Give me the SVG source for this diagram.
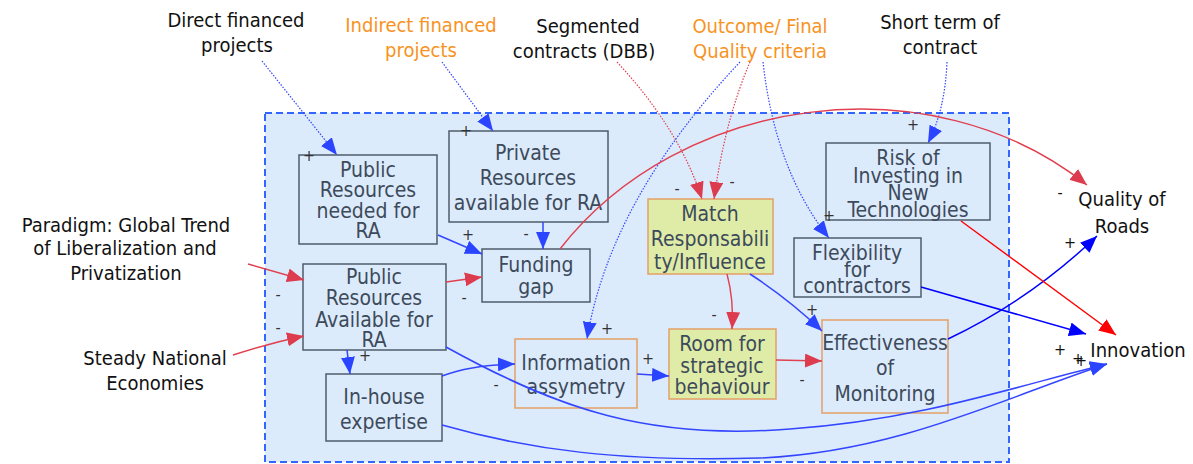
<svg xmlns="http://www.w3.org/2000/svg" width="1193" height="464" viewBox="0 0 1193 464">
  <style>
    text { font-family: "DejaVu Sans Condensed", "DejaVu Sans", sans-serif; font-size: 20px; }
    .ext { fill: #111111; text-anchor: middle; }
    .ora { fill: #f7931e; text-anchor: middle; }
    .nt { fill: #3d4a5a; text-anchor: middle; font-size: 21px; }
    .box { fill: #dcebfc; stroke: #4d5c6b; stroke-width: 1.5; }
    .obox { fill: #dcebfc; stroke: #e2a066; stroke-width: 1.5; }
    .ybox { fill: #dfeca8; stroke: #e2a066; stroke-width: 1.5; }
    .sg { font-size: 16px; fill: #333333; text-anchor: middle; }
    .sgo { font-size: 16px; fill: #111111; text-anchor: middle; }
    .b { fill: none; stroke: #3345ff; stroke-width: 1.5; marker-end: url(#mb); }
    .r { fill: none; stroke: #e0404f; stroke-width: 1.4; marker-end: url(#mr); }
    .bd { fill: none; stroke: #3345ff; stroke-width: 1.2; stroke-dasharray: 1.5 1.5; marker-end: url(#mb); }
    .rd { fill: none; stroke: #e0404f; stroke-width: 1.2; stroke-dasharray: 1.5 1.5; marker-end: url(#mr); }
    .pb { fill: none; stroke: #0000ff; stroke-width: 1.5; marker-end: url(#mpb); }
    .pr { fill: none; stroke: #ff0000; stroke-width: 1.4; marker-end: url(#mpr); }
  </style>
  <defs>
    <marker id="mb" markerUnits="userSpaceOnUse" markerWidth="18" markerHeight="14" refX="17" refY="7" orient="auto">
      <path d="M0,0 L17,7 L0,14 z" fill="#2b44ff"/>
    </marker>
    <marker id="mr" markerUnits="userSpaceOnUse" markerWidth="18" markerHeight="14" refX="17" refY="7" orient="auto">
      <path d="M0,0 L17,7 L0,14 z" fill="#dc3c4e"/>
    </marker>
    <marker id="mpb" markerUnits="userSpaceOnUse" markerWidth="18" markerHeight="14" refX="17" refY="7" orient="auto">
      <path d="M0,0 L17,7 L0,14 z" fill="#0000ff"/>
    </marker>
    <marker id="mpr" markerUnits="userSpaceOnUse" markerWidth="18" markerHeight="14" refX="17" refY="7" orient="auto">
      <path d="M0,0 L17,7 L0,14 z" fill="#ff0000"/>
    </marker>
  </defs>

  <!-- system boundary -->
  <rect id="boundary" x="265" y="113" width="744" height="349" fill="#dcebfc" stroke="#3366ff" stroke-width="2" stroke-dasharray="7 4"/>

  <!-- nodes -->
  <g id="public-needed">
    <rect class="box" x="299" y="155" width="138" height="89"/>
    <text class="nt"><tspan x="368" y="177">Public</tspan><tspan x="368" y="197">Resources</tspan><tspan x="368" y="218">needed for</tspan><tspan x="368" y="238">RA</tspan></text>
  </g>
  <g id="private-available">
    <rect class="box" x="449" y="131" width="159" height="91"/>
    <text class="nt"><tspan x="528" y="160">Private</tspan><tspan x="528" y="185">Resources</tspan><tspan x="528" y="210">available for RA</tspan></text>
  </g>
  <g id="funding-gap">
    <rect class="box" x="482" y="249" width="108" height="53"/>
    <text class="nt"><tspan x="536" y="272">Funding</tspan><tspan x="536" y="294">gap</tspan></text>
  </g>
  <g id="public-available">
    <rect class="box" x="303" y="264" width="143" height="86"/>
    <text class="nt"><tspan x="374" y="284">Public</tspan><tspan x="374" y="305">Resources</tspan><tspan x="374" y="327">Available for</tspan><tspan x="374" y="347">RA</tspan></text>
  </g>
  <g id="in-house">
    <rect class="box" x="326" y="374" width="116" height="67"/>
    <text class="nt"><tspan x="384" y="404">In-house</tspan><tspan x="384" y="429">expertise</tspan></text>
  </g>
  <g id="information">
    <rect class="obox" x="515" y="339" width="122" height="69"/>
    <text class="nt"><tspan x="576" y="370">Information</tspan><tspan x="576" y="394">assymetry</tspan></text>
  </g>
  <g id="room">
    <rect class="ybox" x="669" y="329" width="107" height="70"/>
    <text class="nt"><tspan x="722" y="351">Room for</tspan><tspan x="722" y="373">strategic</tspan><tspan x="722" y="394">behaviour</tspan></text>
  </g>
  <g id="match">
    <rect class="ybox" x="648" y="199" width="125" height="75"/>
    <text class="nt"><tspan x="710" y="221">Match</tspan><tspan x="710" y="246">Responsabili</tspan><tspan x="710" y="269">ty/Influence</tspan></text>
  </g>
  <g id="effectiveness">
    <rect class="obox" x="822" y="320" width="126" height="93"/>
    <text class="nt"><tspan x="885" y="350">Effectiveness</tspan><tspan x="885" y="375">of</tspan><tspan x="885" y="401">Monitoring</tspan></text>
  </g>
  <g id="flexibility">
    <rect class="box" x="794" y="238" width="127" height="59"/>
    <text class="nt"><tspan x="857" y="260">Flexibility</tspan><tspan x="857" y="277">for</tspan><tspan x="857" y="293">contractors</tspan></text>
  </g>
  <g id="risk">
    <rect class="box" x="826" y="143" width="164" height="77"/>
    <text class="nt"><tspan x="908" y="165">Risk of</tspan><tspan x="908" y="183">Investing in</tspan><tspan x="908" y="200">New</tspan><tspan x="908" y="217">Technologies</tspan></text>
  </g>

  <!-- exogenous variables -->
  <g id="direct-financed">
    <text class="ext"><tspan x="236" y="27">Direct financed</tspan><tspan x="237" y="52">projects</tspan></text>
  </g>
  <g id="indirect-financed">
    <text class="ora"><tspan x="421" y="32">Indirect financed</tspan><tspan x="421" y="57">projects</tspan></text>
  </g>
  <g id="segmented">
    <text class="ext"><tspan x="588" y="33">Segmented</tspan><tspan x="584" y="58">contracts (DBB)</tspan></text>
  </g>
  <g id="outcome">
    <text class="ora"><tspan x="760" y="33">Outcome/ Final</tspan><tspan x="760" y="58">Quality criteria</tspan></text>
  </g>
  <g id="short-term">
    <text class="ext"><tspan x="940" y="29">Short term of</tspan><tspan x="940" y="54">contract</tspan></text>
  </g>
  <g id="paradigm">
    <text class="ext"><tspan x="126" y="232">Paradigm: Global Trend</tspan><tspan x="125" y="255">of Liberalization and</tspan><tspan x="126" y="280">Privatization</tspan></text>
  </g>
  <g id="steady">
    <text class="ext"><tspan x="155" y="365">Steady National</tspan><tspan x="155" y="390">Economies</tspan></text>
  </g>
  <g id="quality-roads">
    <text class="ext"><tspan x="1122" y="206">Quality of</tspan><tspan x="1122" y="233">Roads</tspan></text>
  </g>
  <g id="innovation">
    <text class="ext" x="1138" y="357">Innovation</text>
  </g>

  <!-- causal links -->
  <g id="connectors">
    <path class="bd" d="M262,61 L337,155"/>
    <path class="bd" d="M442,62 L493,131"/>
    <path class="rd" d="M617,62 Q680,130 702,199"/>
    <path class="rd" d="M750,62 Q725,120 714,199"/>
    <path class="bd" d="M740,62 Q610,200 587,339"/>
    <path class="bd" d="M763,62 Q775,170 829,238"/>
    <path class="bd" d="M947,62 Q945,110 928,143"/>
    <path class="r" d="M248,264 L304,280"/>
    <path class="r" d="M233,355 Q270,343 304,336"/>
    <path class="b" d="M438,235 L482,254"/>
    <path class="b" d="M543,222 L543,249"/>
    <path class="r" d="M446,282 L482,277"/>
    <path class="r" d="M560,249 C680,95 930,60 1087,185" marker-end="url(#mpr)"/>
    <path class="b" d="M347,350 L350,374"/>
    <path class="b" d="M442,376 Q470,365 515,364"/>
    <path class="b" d="M446,347 C560,410 650,440 790,429 C920,420 1020,385 1107,364"/>
    <path class="b" d="M442,425 C530,450 620,462 760,458 C900,452 1010,395 1107,364"/>
    <path class="b" d="M637,374 L669,376"/>
    <path class="r" d="M727,274 Q734,300 732,329"/>
    <path class="b" d="M750,274 Q790,300 822,331"/>
    <path class="r" d="M776,360 L822,361"/>
    <path class="pb" d="M948,339 Q1030,300 1097,236"/>
    <path class="pb" d="M921,287 L1086,334"/>
    <path class="pr" d="M961,221 L1116,335"/>
  </g>

  <!-- polarity signs -->
  <g id="signs">
    <text class="sg" x="309" y="161">+</text>
    <text class="sg" x="466" y="136">+</text>
    <text class="sg" x="677" y="194">-</text>
    <text class="sg" x="732" y="187">-</text>
    <text class="sg" x="607" y="334">+</text>
    <text class="sg" x="829" y="221">+</text>
    <text class="sg" x="913" y="130">+</text>
    <text class="sg" x="278" y="300">-</text>
    <text class="sg" x="278" y="333">-</text>
    <text class="sg" x="468" y="240">+</text>
    <text class="sg" x="526" y="239">-</text>
    <text class="sg" x="464" y="303">-</text>
    <text class="sgo" x="1060" y="198">-</text>
    <text class="sg" x="365" y="361">+</text>
    <text class="sg" x="496" y="390">-</text>
    <text class="sg" x="648" y="364">+</text>
    <text class="sg" x="714" y="320">-</text>
    <text class="sg" x="812" y="315">+</text>
    <text class="sg" x="802" y="385">-</text>
    <text class="sgo" x="1070" y="248">+</text>
    <text class="sgo" x="1060" y="355">+</text>
    <text class="sgo" x="1078" y="364">+</text>
    <text class="sgo" x="1081" y="366">+</text>
  </g>
</svg>
